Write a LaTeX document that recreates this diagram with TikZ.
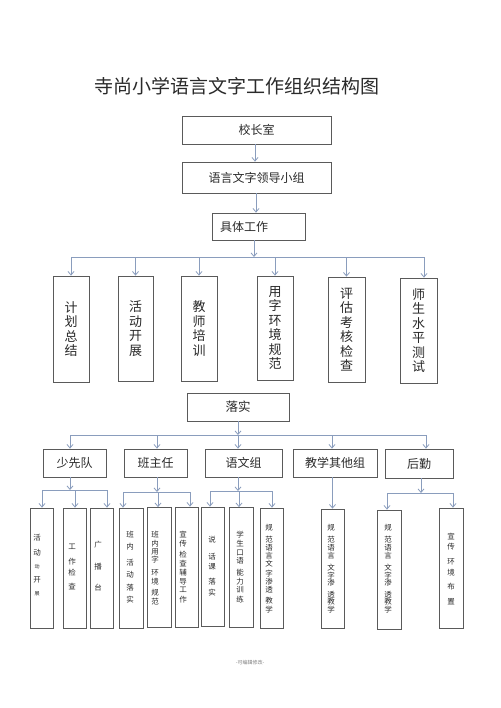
\documentclass[tikz,border=0pt]{standalone}
\usepackage{fontspec}
\setmainfont{Noto Sans CJK SC}
\usetikzlibrary{arrows.meta}
\definecolor{boxc}{HTML}{5A5A5A}
\definecolor{arrc}{HTML}{8A9DBD}
\definecolor{txtc}{HTML}{2A2A2A}
\newcommand\colchars[3]{\foreach \c/\y [count=\i] in {#3} {\node[ch] (#1t\i) at (#2,\y) {\c};}}
\begin{document}
\begin{tikzpicture}[x=1pt,y=-1pt,
  box/.style={draw=boxc, line width=0.8pt, inner sep=0pt, text=txtc, align=center},
  arr/.style={draw=arrc, line width=0.8pt, -{Straight Barb[length=3.5pt,width=6pt]}},
  ln/.style={draw=arrc, line width=0.8pt},
  ch/.style={inner sep=0pt, text=txtc, font=\fontsize{7.5}{8}\selectfont},
  big/.style={font=\fontsize{13}{14.5}\selectfont},
  mid/.style={font=\fontsize{12}{13}\selectfont},
  smallc/.style={box, minimum height=120pt}]
\fill[white] (0,0) rectangle (500,708);
\useasboundingbox (0,0) rectangle (500,708);

% title
\node[text=txtc, font=\fontsize{19}{20}\selectfont, inner sep=0pt] (title) at (236.5,86) {寺尚小学语言文字工作组织结构图};

% top boxes
\node[box, mid, minimum width=149pt, minimum height=28pt] (xz) at (256.5,130) {校长室};
\node[box, mid, minimum width=149pt, minimum height=31pt] (ld) at (256.5,177.5) {语言文字领导小组};
\node[box, mid, minimum height=27pt, text width=77pt, inner xsep=8pt, align=left] (jt) at (258.5,226.5) {具体工作};

\coordinate (u1) at (255,0);
\coordinate (u2) at (256,0);
\draw[arr] (xz.south -| u1) -- (ld.north -| u1);
\draw[arr] (ld.south -| u2) -- (jt.north -| u2);

% six boxes
\node[box, big, minimum width=36pt, minimum height=106pt] (b1) at (71,329) {计\\划\\总\\结};
\node[box, big, minimum width=35pt, minimum height=105pt] (b2) at (135.5,328.5) {活\\动\\开\\展};
\node[box, big, minimum width=36pt, minimum height=105pt] (b3) at (199,328.5) {教\\师\\培\\训};
\node[box, big, minimum width=36pt, minimum height=104pt] (b4) at (275,328) {用\\字\\环\\境\\规\\范};
\node[box, big, minimum width=37pt, minimum height=105pt] (b5) at (346.5,329.5) {评\\估\\考\\核\\检\\查};
\node[box, big, minimum width=37pt, minimum height=105pt] (b6) at (418.5,330.5) {师\\生\\水\\平\\测\\试};

\coordinate (bus1) at (254,257);
\coordinate (a6) at ([xshift=5.5pt]b6.north);
\draw[arr] (jt.south -| bus1) -- (bus1);
\draw[ln] (bus1 -| b1.north) -- (bus1 -| a6);
\foreach \b in {b1,b2,b3,b4,b5} {\draw[arr] (bus1 -| \b.north) -- (\b.north);}
\draw[arr] (bus1 -| a6) -- (a6);

% 落实
\node[box, font=\fontsize{12.5}{13}\selectfont, minimum width=102pt, minimum height=28pt] (lsh) at (238,407) {落实};

% level 2
\node[box, mid, minimum width=63pt, minimum height=28pt] (sx) at (74.5,463) {少先队};
\node[box, mid, minimum width=63pt, minimum height=28pt] (bz) at (155.5,463) {班主任};
\node[box, mid, minimum width=77pt, minimum height=28pt] (yw) at (243.5,463) {语文组};
\node[box, mid, minimum width=84pt, minimum height=28pt] (jx) at (335,463) {教学其他组};
\node[box, mid, minimum width=68pt, minimum height=29pt] (hq) at (419,463.5) {后勤};

\coordinate (bus2) at (238,435);
\coordinate (p1) at ([xshift=-4.5pt]sx.north);
\coordinate (p2) at ([xshift=1.5pt]bz.north);
\coordinate (p3) at ([xshift=-5.5pt]yw.north);
\coordinate (p4) at ([xshift=-3pt]jx.north);
\coordinate (p5) at ([xshift=7pt]hq.north);
\draw[arr] (lsh.south) -- (bus2);
\draw[ln] (bus2 -| p1) -- (bus2 -| p5);
\foreach \p in {p1,p2,p3,p4,p5} {\draw[arr] (bus2 -| \p) -- (\p);}

% level 3 boxes
\node[smallc, minimum width=23pt] (c1) at (41.5,568) {};
\node[smallc, minimum width=23pt] (c2) at (74.5,568) {};
\node[smallc, minimum width=23pt] (c3) at (101.5,568) {};
\node[smallc, minimum width=24pt] (c4) at (131,568) {};
\node[smallc, minimum width=24pt] (c5) at (159,567.5) {};
\node[smallc, minimum width=23pt] (c6) at (186.5,567) {};
\node[smallc, minimum width=23pt, minimum height=119pt] (c7) at (212.5,566.5) {};
\node[smallc, minimum width=24pt] (c8) at (241,567.5) {};
\node[smallc, minimum width=23pt] (c9) at (271.5,568) {};
\node[smallc, minimum width=23pt, minimum height=119pt] (c10) at (332.5,568.5) {};
\node[smallc, minimum width=24pt, minimum height=119pt] (c11) at (389,569.5) {};
\node[smallc, minimum width=24pt] (c12) at (451,568) {};

% level 3 texts
\colchars{c1}{37}{活/538,动/553,{\fontsize{5}{5}\selectfont 动}/567,开/580,{\fontsize{5}{5}\selectfont 展}/594}
\colchars{c2}{72}{工/547,作/562,检/573,查/587}
\colchars{c3}{98}{广/545,播/567,台/588}
\colchars{c4}{130}{班/535,内/547,活/563,动/575,落/588,实/600}
\colchars{c5}{155}{班/535,内/544,用/552,字/560,环/573,境/582,规/593,范/602}
\colchars{c6}{183}{宣/535,传/544,检/555,查/564,辅/573,导/582,工/590,作/600}
\colchars{c7}{212}{说/540,话/557,课/567,落/582,实/593}
\colchars{c8}{240}{学/535,生/544,口/553,语/561,能/573,力/582,训/590,练/600}
\colchars{c9}{269}{规/528,范/540,语/548,言/556,文/564,字/574,渗/582,透/590,教/601,学/610}
\colchars{c10}{331}{规/528,范/540,语/548,言/556,文/568,字/576,渗/583,透/595,教/602,学/610}
\colchars{c11}{388}{规/528,范/540,语/548,言/556,文/568,字/576,渗/583,透/595,教/602,学/610}
\colchars{c12}{451}{宣/537,传/547,环/562,境/573,布/587,置/602}

% level 3 connectors
% 少先队
\coordinate (sxb) at ([xshift=-4.5pt]sx.south |- 0,490);
\coordinate (q1) at ([xshift=0.5pt]c1.north);
\coordinate (q2) at ([xshift=0.5pt]c2.north);
\coordinate (q3) at ([xshift=5.5pt]c3.north);
\draw[arr] ([xshift=-4.5pt]sx.south) -- (sxb);
\draw[ln] (sxb -| q1) -- (sxb -| q3);
\foreach \q in {q1,q2,q3} {\draw[arr] (sxb -| \q) -- (\q);}
% 班主任
\coordinate (bzb) at ([xshift=1.5pt]bz.south |- 0,492);
\coordinate (q4) at ([xshift=-8pt]c4.north);
\coordinate (q5) at ([xshift=-1pt]c5.north);
\coordinate (q6) at ([xshift=3.5pt]c6.north);
\draw[arr] ([xshift=1.5pt]bz.south) -- (bzb);
\draw[ln] (bzb -| q4) -- (bzb -| q6);
\foreach \q in {q4,q5,q6} {\draw[arr] (bzb -| \q) -- (\q);}
% 语文组
\coordinate (ywb) at ([xshift=-5.5pt]yw.south |- 0,491);
\coordinate (q7) at ([xshift=-2.5pt]c7.north);
\coordinate (q8) at ([xshift=-2pt]c8.north);
\coordinate (q9) at ([xshift=0.5pt]c9.north);
\draw[arr] ([xshift=-5.5pt]yw.south) -- (ywb);
\draw[ln] (ywb -| q7) -- (ywb -| q9);
\foreach \q in {q7,q8,q9} {\draw[arr] (ywb -| \q) -- (\q);}
% 教学其他组
\draw[arr] (c10.north |- jx.south) -- (c10.north);
% 后勤
\coordinate (hqb) at ([xshift=2pt]hq.south |- 0,493);
\coordinate (q11) at ([xshift=-2pt]c11.north);
\coordinate (q12) at ([xshift=2pt]c12.north);
\draw[arr] ([xshift=2pt]hq.south) -- (hqb);
\draw[ln] (hqb -| q11) -- (hqb -| q12);
\foreach \q in {q11,q12} {\draw[arr] (hqb -| \q) -- (\q);}

% footer
\node[text=gray, font=\fontsize{5}{6}\selectfont, inner sep=0pt] (foot) at (250,663) {-可编辑修改-};
\end{tikzpicture}
\end{document}
